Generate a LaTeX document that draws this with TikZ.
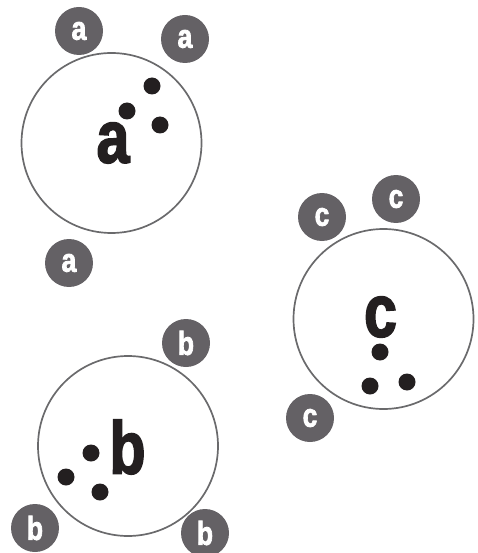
\documentclass[tikz,border=0pt]{standalone}
\usepackage{fontspec}
\setmainfont{Liberation Sans}
\newfontfamily\heavy[FakeBold=2.5]{Liberation Sans Bold}
\usepackage{graphicx}
\usetikzlibrary{positioning}
\definecolor{ionfill}{HTML}{646165}
\definecolor{rim}{HTML}{6A6A6C}
\definecolor{ink}{HTML}{231F20}
\newcommand{\cnd}[1]{\scalebox{0.8}[1]{\heavy #1}}

\begin{document}
\begin{tikzpicture}[x=1pt,y=-1pt,
  cell/.style={circle,draw=rim,line width=1.7pt,minimum size=180pt,inner sep=0pt},
  big/.style={inner sep=0pt,text=ink,font=\fontsize{74}{74}\selectfont},
  ion/.style={circle,fill=ionfill,minimum size=48pt,inner sep=0pt,
              text=white,font=\fontsize{33}{33}\selectfont},
  dot/.style={circle,fill=ink,minimum size=17pt,inner sep=0pt}
]
\useasboundingbox (0,0) rectangle (477,553);
% cell a
\node[cell] (ca) at (111.5,143) {};
\node[big] (la) at (113,143) {\cnd{a}};
\node[ion] (a1) at (79,31) {\cnd{a}};
\node[ion] (a2) at (185,39) {\cnd{a}};
\node[ion] (a3) at (69,263) {\cnd{a}};
\node[dot] (da1) at (152,86) {};
\node[dot] (da2) at (127,111) {};
\node[dot] (da3) at (160,125) {};
% cell c
\node[cell] (cc) at (383.5,319) {};
\node[big] (lc) at (380.5,317) {\cnd{c}};
\node[ion] (c1) at (322,217) {\cnd{c}};
\node[ion] (c2) at (396,199) {\cnd{c}};
\node[ion] (c3) at (310,418) {\cnd{c}};
\node[dot] (dc1) at (380,352) {};
\node[dot] (dc2) at (370,386) {};
\node[dot] (dc3) at (407,382) {};
% cell b
\node[cell] (cb) at (128,446) {};
\node[big] (lb) at (127.5,447) {\cnd{b}};
\node[ion] (b1) at (186,343) {\cnd{b}};
\node[ion] (b2) at (35,528) {\cnd{b}};
\node[ion] (b3) at (205,533) {\cnd{b}};
\node[dot] (db1) at (91,453) {};
\node[dot] (db2) at (66,477) {};
\node[dot] (db3) at (100,492) {};
\end{tikzpicture}
\end{document}
